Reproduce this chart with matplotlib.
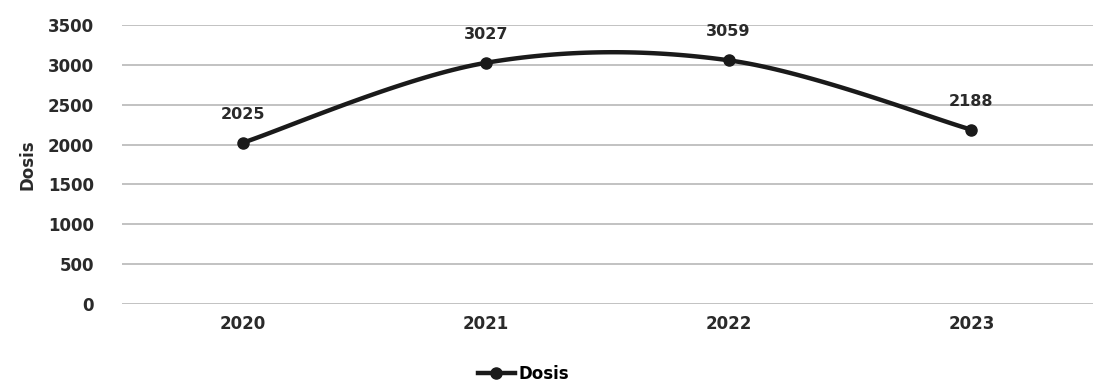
import numpy as np
import matplotlib
matplotlib.use("Agg")
import matplotlib.pyplot as plt
from matplotlib.lines import Line2D

# data
years = ["2020", "2021", "2022", "2023"]
dosis = [2025, 3027, 3059, 2188]


def smooth(xs, ys, steps=40):
	"""catmull-rom curve through the points, like excel's smoothed line"""
	px = [xs[0]] + list(xs) + [xs[-1]]
	py = [ys[0]] + list(ys) + [ys[-1]]
	outx, outy = [], []
	t = np.linspace(0, 1, steps)
	for i in range(1, len(px) - 2):
		for p, out in ((px, outx), (py, outy)):
			p0, p1, p2, p3 = p[i - 1], p[i], p[i + 1], p[i + 2]
			out.extend(0.5 * ((2 * p1) + (-p0 + p2) * t
				+ (2 * p0 - 5 * p1 + 4 * p2 - p3) * t ** 2
				+ (-p0 + 3 * p1 - 3 * p2 + p3) * t ** 3))
	return outx, outy


plt.rcParams['font.family'] = ['DejaVu Sans']
fig = plt.figure(figsize=(10.95, 3.87), dpi=100)
ax = fig.add_axes([0.111, 0.2145, 0.887, 0.7205])

x = np.arange(len(years))
sx, sy = smooth(x, dosis)
ax.plot(sx, sy, color="#1a1a1a", lw=3.2, solid_capstyle="round", zorder=3)
ax.plot(x, dosis, "o", color="#1a1a1a", ms=8, zorder=4)

for xi, v in zip(x, dosis):
	ax.annotate(str(v), (xi, v), xytext=(0, 15), textcoords="offset points",
		ha="center", va="bottom", fontsize=11.5, fontweight="bold", color="#2a2a2a")

ax.set_xlim(-0.5, len(years) - 0.5)
ax.set_ylim(0, 3500)
ax.set_yticks(range(0, 3501, 500))
ax.set_xticks(x)
ax.set_xticklabels(years)
ax.grid(axis="y", color="#b8b8b8", lw=1.2)
ax.set_axisbelow(True)
for s in ax.spines.values():
	s.set_visible(False)
ax.tick_params(length=0, labelsize=12, labelcolor="#2a2a2a")
ax.tick_params(axis="y", pad=20)
ax.tick_params(axis="x", pad=8)
for lab in ax.get_xticklabels() + ax.get_yticklabels():
	lab.set_fontweight("bold")
ax.set_ylabel("Dosis", fontsize=12, fontweight="bold", color="#2a2a2a", labelpad=8)

handle = Line2D([], [], color="#1a1a1a", lw=3.2, marker="o", ms=8)
fig.legend([handle], ["Dosis"], loc="lower center", bbox_to_anchor=(0.478, -0.028),
	frameon=False, prop={"weight": "bold", "size": 12}, handlelength=2.2,
	handletextpad=0.2)

fig.savefig("out.png", dpi=100)
